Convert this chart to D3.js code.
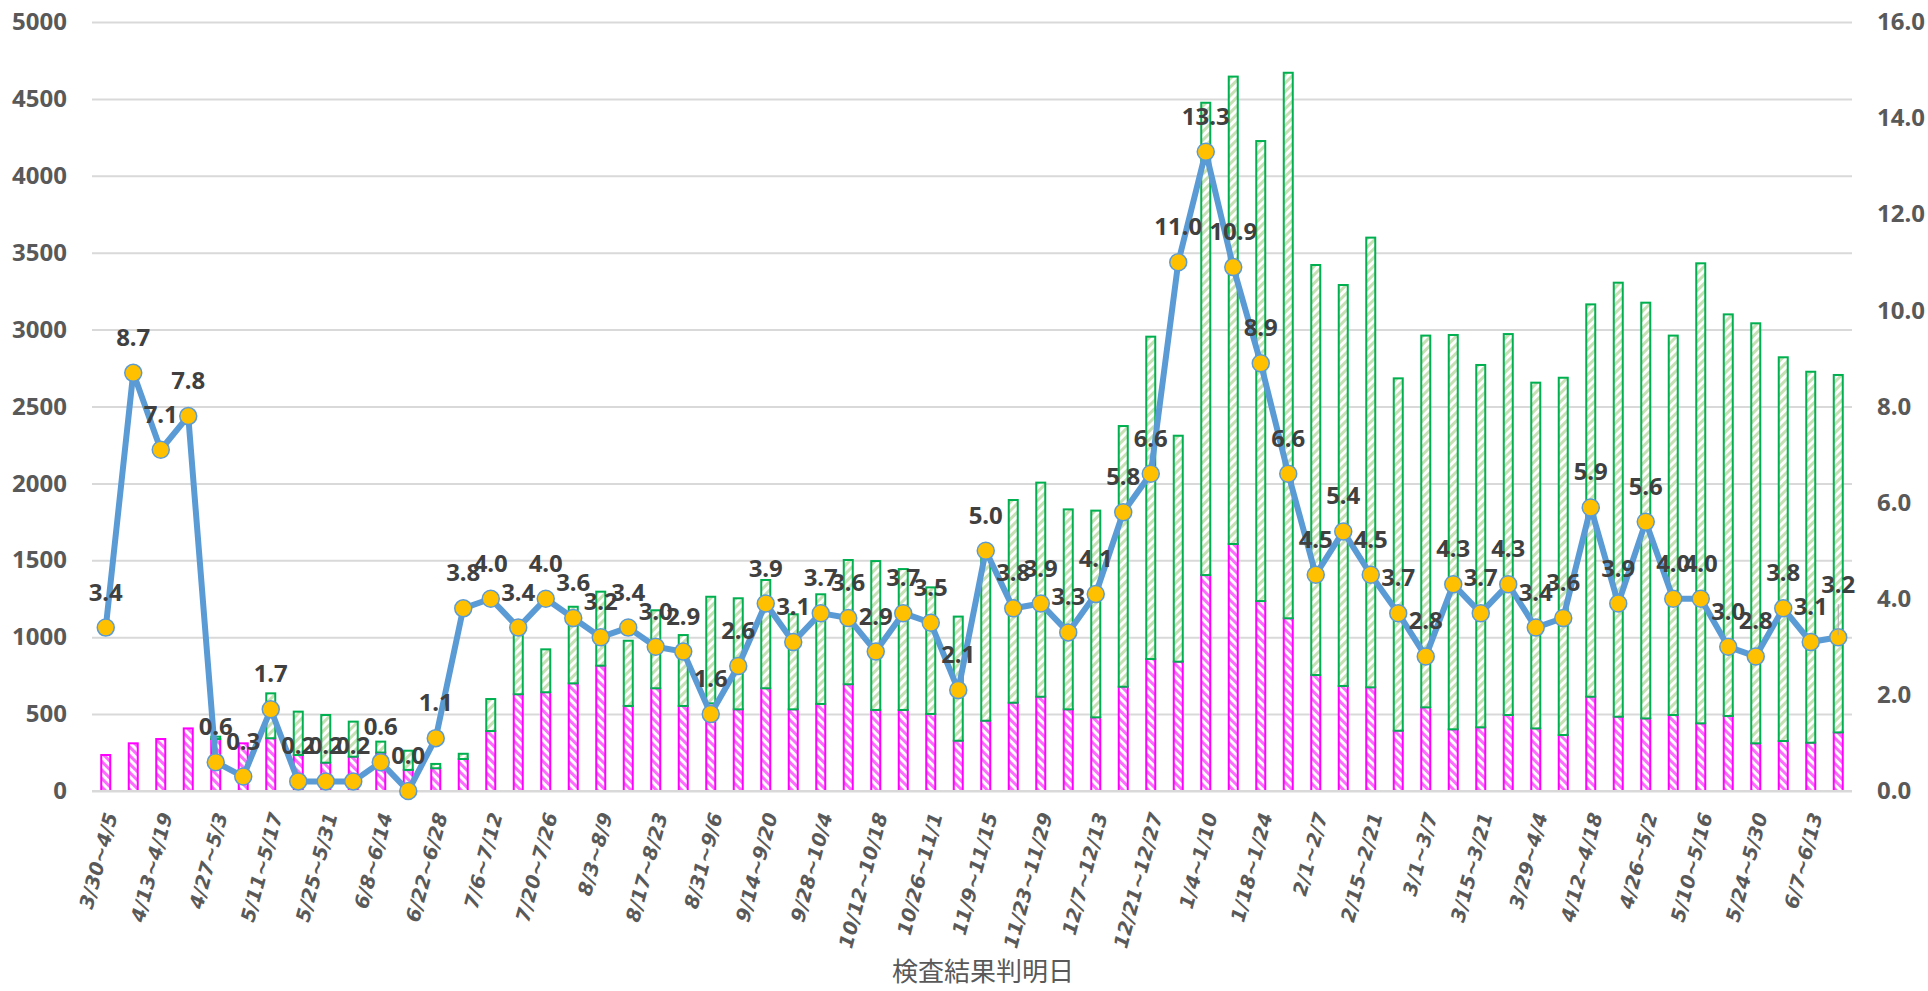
<!DOCTYPE html>
<html>
<head>
<meta charset="utf-8">
<script src="https://cdn.jsdelivr.net/npm/d3@7"></script>
<style>
  body { margin: 0; background: #fff; }
  svg { display: block; }
</style>
</head>
<body>
<div id="chart"></div>
<script>
// weekly ranges (検査結果判明日)
const weeks = [
  "3/30~4/5", "4/6~4/12", "4/13~4/19", "4/20~4/26", "4/27~5/3", "5/4~5/10",
  "5/11~5/17", "5/18~5/24", "5/25~5/31", "6/1~6/7", "6/8~6/14", "6/15~6/21",
  "6/22~6/28", "6/29~7/5", "7/6~7/12", "7/13~7/19", "7/20~7/26", "7/27~8/2",
  "8/3~8/9", "8/10~8/16", "8/17~8/23", "8/24~8/30", "8/31~9/6", "9/7~9/13",
  "9/14~9/20", "9/21~9/27", "9/28~10/4", "10/5~10/11", "10/12~10/18", "10/19~10/25",
  "10/26~11/1", "11/2~11/8", "11/9~11/15", "11/16~11/22", "11/23~11/29", "11/30~12/6",
  "12/7~12/13", "12/14~12/20", "12/21~12/27", "12/28~1/3", "1/4~1/10", "1/11~1/17",
  "1/18~1/24", "1/25~1/31", "2/1~2/7", "2/8~2/14", "2/15~2/21", "2/22~2/28",
  "3/1~3/7", "3/8~3/14", "3/15~3/21", "3/22~3/28", "3/29~4/4", "4/5~4/11",
  "4/12~4/18", "4/19~4/25", "4/26~5/2", "5/3~5/9", "5/10~5/16", "5/17~5/23",
  "5/24~5/30", "5/31~6/6", "6/7~6/13", "6/14~6/20"
]

// lower (pink) segment of each bar
const bottomVals = [
  234, 310, 338, 407, 338, 310, 343, 234, 184, 223, 250, 137,
  148, 208, 390, 629, 642, 700, 815, 553, 668, 553, 570, 531,
  668, 531, 566, 694, 527, 527, 501, 327, 457, 574, 613, 531,
  479, 678, 858, 841, 1404, 1606, 1235, 1123, 754, 683, 674, 392,
  544, 401, 414, 494, 407, 364, 613, 483, 472, 494, 440, 488,
  310, 325, 314, 381
]

// upper (green) segment of each bar
const topVals = [
  0, 0, 0, 0, 15, 0, 292, 282, 310, 228, 71, 125,
  28, 34, 208, 396, 279, 498, 481, 424, 507, 461, 693, 722,
  704, 618, 713, 808, 968, 916, 823, 807, 1073, 1318, 1392, 1300,
  1344, 1695, 2096, 1469, 3071, 3039, 2991, 3547, 2666, 2607, 2924, 2291,
  2417, 2564, 2356, 2477, 2248, 2323, 2551, 2822, 2703, 2467, 2991, 2611,
  2731, 2495, 2412, 2324
]

// line series (right axis)
const rateVals = [
  3.4, 8.7, 7.1, 7.8, 0.6, 0.3, 1.7, 0.2, 0.2, 0.2, 0.6, 0.0,
  1.1, 3.8, 4.0, 3.4, 4.0, 3.6, 3.2, 3.4, 3.0, 2.9, 1.6, 2.6,
  3.9, 3.1, 3.7, 3.6, 2.9, 3.7, 3.5, 2.1, 5.0, 3.8, 3.9, 3.3,
  4.1, 5.8, 6.6, 11.0, 13.3, 10.9, 8.9, 6.6, 4.5, 5.4, 4.5, 3.7,
  2.8, 4.3, 3.7, 4.3, 3.4, 3.6, 5.9, 3.9, 5.6, 4.0, 4.0, 3.0,
  2.8, 3.8, 3.1, 3.2
]

const leftTicks = [0, 500, 1000, 1500, 2000, 2500, 3000, 3500, 4000, 4500, 5000]
const rightTicks = [0, 2, 4, 6, 8, 10, 12, 14, 16]
const xTitle = "検査結果判明日"

const W = 1928, H = 991
const plot = {left: 92, right: 1852, top: 22, bottom: 791}

const svg = d3.select("#chart").append("svg")
  .attr("width", W)
  .attr("height", H)
  .style("background", "#fff")

// hatch patterns
const defs = svg.append("defs")
function hatch(id, color, angle) {
  const p = defs.append("pattern")
    .attr("id", id)
    .attr("patternUnits", "userSpaceOnUse")
    .attr("width", 6).attr("height", 6)
    .attr("patternTransform", "rotate(" + angle + ")")
  p.append("rect").attr("width", 6).attr("height", 6).attr("fill", "#fff")
  p.append("rect").attr("width", 3).attr("height", 6).attr("fill", color)
}
hatch("pinkHatch", "#ff6bff", -45)
hatch("greenHatch", "#c5e0b4", 45)

const x = d3.scaleBand()
  .domain(weeks)
  .range([plot.left, plot.right])
  .paddingInner(0.6)
  .paddingOuter(0.3)

const yL = d3.scaleLinear().domain([0, 5000]).range([plot.bottom, plot.top])
const yR = d3.scaleLinear().domain([0, 16]).range([plot.bottom, plot.top])

// gridlines
svg.append("g")
  .attr("transform", "translate(" + plot.left + ",0)")
  .call(d3.axisLeft(yL).tickValues(leftTicks).tickSize(-(plot.right - plot.left)).tickFormat(""))
  .call(g => g.select(".domain").remove())
  .call(g => g.selectAll("line").attr("stroke", "#d9d9d9").attr("stroke-width", 2))

// left axis labels
svg.append("g")
  .attr("transform", "translate(" + plot.left + ",0)")
  .call(d3.axisLeft(yL).tickValues(leftTicks).tickSize(0).tickPadding(25).tickFormat(d3.format("d")))
  .call(g => g.select(".domain").remove())
  .call(g => g.selectAll("text")
    .attr("fill", "#595959")
    .style("font-family", "'Noto Sans', sans-serif")
    .style("font-weight", "bold")
    .style("font-size", "24px"))

// right axis labels
svg.append("g")
  .attr("transform", "translate(" + plot.right + ",0)")
  .call(d3.axisRight(yR).tickValues(rightTicks).tickSize(0).tickPadding(25).tickFormat(d3.format(".1f")))
  .call(g => g.select(".domain").remove())
  .call(g => g.selectAll("text")
    .attr("fill", "#595959")
    .style("font-family", "'Noto Sans', sans-serif")
    .style("font-weight", "bold")
    .style("font-size", "24px"))

// stacked bars
const rows = weeks.map((w, i) => ({week: w, bottom: bottomVals[i], top: topVals[i]}))
const stacked = d3.stack().keys(["bottom", "top"])(rows)
const fills = {bottom: "url(#pinkHatch)", top: "url(#greenHatch)"}
const strokes = {bottom: "#ff00ff", top: "#00b050"}

svg.append("g")
  .selectAll("g")
  .data(stacked)
  .join("g")
    .attr("fill", d => fills[d.key])
    .attr("stroke", d => strokes[d.key])
    .attr("stroke-width", 2)
  .selectAll("rect")
  .data(d => d.filter(s => s[1] > s[0]))
  .join("rect")
    .attr("x", d => x(d.data.week) + 1)
    .attr("y", d => yL(d[1]))
    .attr("width", x.bandwidth() - 2)
    .attr("height", d => yL(d[0]) - yL(d[1]))

// x axis
const xAxis = svg.append("g")
  .attr("transform", "translate(0," + plot.bottom + ")")
  .call(d3.axisBottom(x).tickValues(weeks.filter((_, i) => i % 2 === 0)).tickSize(0))
xAxis.select(".domain").remove()
xAxis.selectAll("text")
  .attr("x", 0).attr("y", 0).attr("dy", 0)
  .attr("transform", "translate(12,24) rotate(-75)")
  .attr("text-anchor", "end")
  .attr("fill", "#595959")
  .style("font-family", "'DejaVu Sans', sans-serif")
  .style("font-weight", "bold")
  .style("font-style", "italic")
  .style("font-size", "19.5px")

// baseline
svg.append("line")
  .attr("x1", plot.left).attr("x2", plot.right)
  .attr("y1", plot.bottom).attr("y2", plot.bottom)
  .attr("stroke", "#d9d9d9").attr("stroke-width", 2)

// line series
const cx = (d, i) => x(weeks[i]) + x.bandwidth() / 2
const line = d3.line()
  .x(cx)
  .y(d => yR(d))

svg.append("path")
  .datum(rateVals)
  .attr("fill", "none")
  .attr("stroke", "#5b9bd5")
  .attr("stroke-width", 6)
  .attr("stroke-linejoin", "round")
  .attr("d", line)

svg.append("g")
  .selectAll("circle")
  .data(rateVals)
  .join("circle")
    .attr("cx", cx)
    .attr("cy", d => yR(d))
    .attr("r", 8.5)
    .attr("fill", "#ffc000")
    .attr("stroke", "#5b9bd5")
    .attr("stroke-width", 1.5)

// data labels (last one lifted with a leader line)
const last = rateVals.length - 1
svg.append("line")
  .attr("x1", cx(0, last)).attr("x2", cx(0, last))
  .attr("y1", yR(rateVals[last]) - 33).attr("y2", yR(rateVals[last]) - 2)
  .attr("stroke", "#a6a6a6").attr("stroke-width", 1)

svg.append("g")
  .selectAll("text")
  .data(rateVals)
  .join("text")
    .attr("x", cx)
    .attr("y", (d, i) => yR(d) - (i === last ? 44 : 27))
    .attr("text-anchor", "middle")
    .attr("fill", "#404040")
    .style("font-family", "'Noto Sans', sans-serif")
    .style("font-weight", "bold")
    .style("font-size", "24px")
    .text(d => d3.format(".1f")(d))

// x axis title
svg.append("text")
  .attr("x", 983)
  .attr("y", 981)
  .attr("text-anchor", "middle")
  .attr("fill", "#595959")
  .style("font-family", "'Noto Sans CJK JP', sans-serif")
  .style("font-size", "26px")
  .text(xTitle)
</script>
</body>
</html>
